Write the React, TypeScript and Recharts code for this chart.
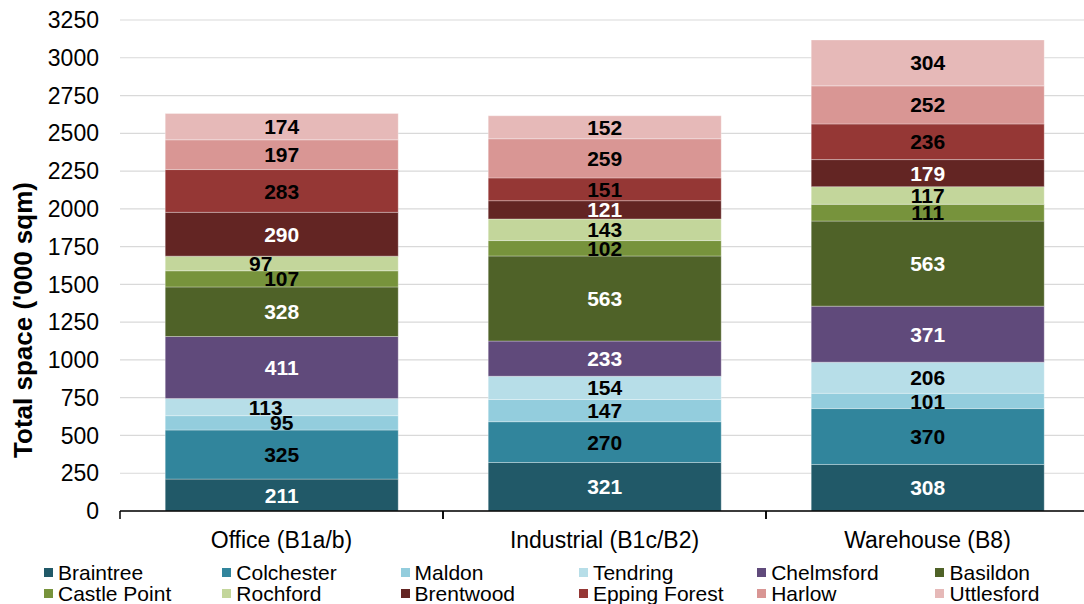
import React from 'react'
import { BarChart, Bar, XAxis, YAxis, CartesianGrid, LabelList } from 'recharts'

// space by use class, '000 sqm
const categories = ['Office (B1a/b)', 'Industrial (B1c/B2)', 'Warehouse (B8)']
const districts = [
  'Braintree', 'Colchester', 'Maldon', 'Tendring', 'Chelmsford', 'Basildon',
  'Castle Point', 'Rochford', 'Brentwood', 'Epping Forest', 'Harlow', 'Uttlesford',
]

const braintree = [211, 321, 308]
const colchester = [325, 270, 370]
const maldon = [95, 147, 101]
const tendring = [113, 154, 206]
const chelmsford = [411, 233, 371]
const basildon = [328, 563, 563]
const castlePoint = [107, 102, 111]
const rochford = [97, 143, 117]
const brentwood = [290, 121, 179]
const eppingForest = [283, 151, 236]
const harlow = [197, 259, 252]
const uttlesford = [174, 152, 304]

const yTicks = [0, 250, 500, 750, 1000, 1250, 1500, 1750, 2000, 2250, 2500, 2750, 3000, 3250]

const seriesValues = [
  braintree, colchester, maldon, tendring, chelmsford, basildon,
  castlePoint, rochford, brentwood, eppingForest, harlow, uttlesford,
]

const fills = [
  '#215968', '#31859c', '#93cddd', '#b7dee8', '#604a7b', '#4f6228',
  '#77933c', '#c3d69b', '#632523', '#953735', '#d99694', '#e6b9b8',
]
const labelColors = [
  '#fff', '#000', '#000', '#000', '#fff', '#fff',
  '#000', '#000', '#fff', '#000', '#000', '#000',
]

// hand-moved labels in the original (category index | district)
const nudges: Record<string, number> = {
  '0|Tendring': -16,
  '0|Rochford': -21,
}

const data = categories.map((name, i) => {
  const row: Record<string, string | number> = { name }
  districts.forEach((d, j) => {
    row[d] = seriesValues[j][i]
  })
  return row
})

const FONT = '"Liberation Sans", Arial, sans-serif'

const XTick = (props: any) => {
  const { x, y, payload } = props
  const half = payload && payload.offset ? payload.offset : 161.5
  return (
    <g>
      <line x1={x - half} x2={x - half} y1={y} y2={y + 8} stroke="#000" strokeWidth={1.5} />
      <line x1={x + half} x2={x + half} y1={y} y2={y + 8} stroke="#000" strokeWidth={1.5} />
      <text x={x} y={y + 37} textAnchor="middle" fontSize={23} fill="#000" fontFamily={FONT}>
        {payload.value}
      </text>
    </g>
  )
}

const makeLabel = (series: string, color: string) => (props: any) => {
  const { x, y, width, height, value, index } = props
  const dx = nudges[`${index}|${series}`] || 0
  return (
    <text
      x={x + width / 2 + dx}
      y={y + height / 2}
      dy="0.36em"
      textAnchor="middle"
      fontWeight="bold"
      fontSize={21}
      fill={color}
      fontFamily={FONT}
    >
      {value}
    </text>
  )
}

export default function App() {
  return (
    <div
      style={{
        position: 'absolute',
        left: 0,
        top: 0,
        width: 1084,
        height: 604,
        overflow: 'hidden',
        background: '#fff',
        fontFamily: FONT,
      }}
    >
      <BarChart
        width={1100}
        height={604}
        data={data}
        margin={{ top: 20, right: 11, left: 0, bottom: 53 }}
        barCategoryGap="14%"
        style={{ fontFamily: FONT }}
      >
        <CartesianGrid vertical={false} stroke="#d9d9d9" strokeWidth={1.2} />
        <XAxis
          dataKey="name"
          height={40}
          tickLine={false}
          tickSize={0}
          tickMargin={0}
          axisLine={{ stroke: '#000', strokeWidth: 1.5 }}
          tick={<XTick />}
          interval={0}
        />
        <YAxis
          width={120}
          domain={[0, 3250]}
          ticks={yTicks}
          interval={0}
          axisLine={false}
          tickLine={false}
          tickSize={6}
          tickMargin={15}
          tick={{ fontSize: 23, fill: '#000', fontFamily: FONT }}
          label={{
            content: () => (
              <text
                x={32}
                y={320}
                transform="rotate(-90, 32, 320)"
                textAnchor="middle"
                fontWeight="bold"
                fontSize={26}
                fill="#000"
                fontFamily={FONT}
              >
                Total space ('000 sqm)
              </text>
            ),
          }}
        />
        {districts.map((d, j) => (
          <Bar
            key={d}
            dataKey={d}
            stackId="a"
            fill={fills[j]}
            stroke="rgba(255,255,255,0.3)"
            strokeWidth={1}
            isAnimationActive={false}
          >
            <LabelList dataKey={d} content={makeLabel(d, labelColors[j])} />
          </Bar>
        ))}
      </BarChart>
      <div
        style={{
          position: 'absolute',
          left: 44,
          top: 562,
          display: 'grid',
          gridTemplateColumns: 'repeat(6, 178.3px)',
          rowGap: 0,
          fontSize: 21,
          lineHeight: '21px',
          color: '#000',
        }}
      >
        {districts.map((d, j) => (
          <div key={d} style={{ display: 'flex', alignItems: 'center', height: 21, whiteSpace: 'nowrap' }}>
            <span
              style={{
                display: 'inline-block',
                width: 9,
                height: 9,
                background: fills[j],
                marginRight: 5,
                flexShrink: 0,
              }}
            />
            <span>{d}</span>
          </div>
        ))}
      </div>
    </div>
  )
}
